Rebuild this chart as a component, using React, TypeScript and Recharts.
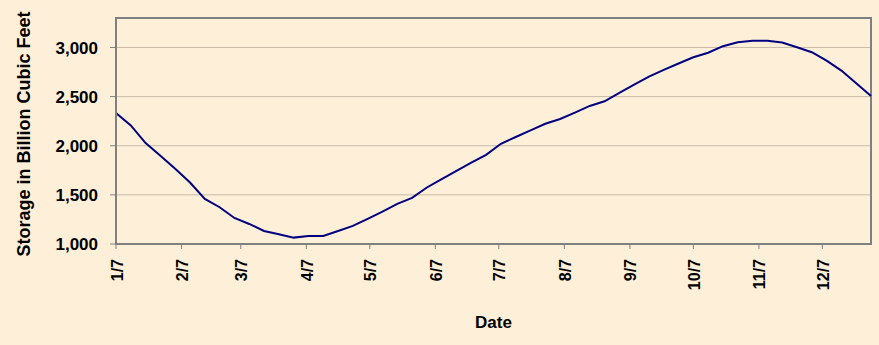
import React from "react";
import {
  LineChart,
  Line,
  XAxis,
  YAxis,
  CartesianGrid,
  ReferenceArea,
  Label,
} from "recharts";

// weekly storage readings, starting 1/7 (day 0), every 7 days
const weekDays = Array.from({ length: 52 }, (_, i) => i * 7);
const storage = [
  2334, 2207, 2027, 1898, 1765, 1626, 1459, 1374, 1265, 1204, 1133, 1099, 1065,
  1082, 1082, 1133, 1184, 1255, 1330, 1408, 1469, 1575, 1660, 1745, 1827, 1908,
  2020, 2089, 2157, 2224, 2272, 2337, 2405, 2452, 2537, 2622, 2704, 2772, 2837,
  2901, 2946, 3013, 3054, 3068, 3068, 3051, 3003, 2952, 2867, 2765, 2636, 2507,
];

// month ticks: days after 1/7
const monthTicks = [0, 31, 59, 90, 120, 151, 181, 212, 243, 273, 304, 334];
const monthLabels = ["1/7", "2/7", "3/7", "4/7", "5/7", "6/7", "7/7", "8/7", "9/7", "10/7", "11/7", "12/7"];
const yTicks = [1000, 1500, 2000, 2500, 3000];

const data = weekDays.map((d, i) => ({ day: d, storage: storage[i] }));

const BG = "#FEEFD8";
const FONT = "'Liberation Sans', Arial, sans-serif";

const DateTick = (props: any) => {
  const { x, y, payload } = props;
  const idx = monthTicks.indexOf(payload.value);
  return (
    <text
      transform={`translate(${x + 1},${y}) rotate(-90)`}
      textAnchor="end"
      dominantBaseline="central"
      fontFamily={FONT}
      fontWeight="bold"
      fontSize={16}
      fill="#000"
    >
      {monthLabels[idx]}
    </text>
  );
};

const YTitle = (props: any) => {
  const { viewBox } = props;
  const cx = 24;
  const cy = viewBox.y + viewBox.height / 2 + 3;
  return (
    <text
      transform={`translate(${cx},${cy}) rotate(-90)`}
      textAnchor="middle"
      dominantBaseline="central"
      fontFamily={FONT}
      fontWeight="bold"
      fontSize={18}
      fill="#000"
    >
      Storage in Billion Cubic Feet
    </text>
  );
};

export default function App() {
  return (
    <div style={{ position: "fixed", left: 0, top: 0, width: 879, height: 345, background: BG }}>
      <LineChart
        width={879}
        height={345}
        data={data}
        margin={{ top: 18, right: 8, bottom: 21, left: 0 }}
      >
        <CartesianGrid horizontal vertical={false} stroke="#C9BBA8" strokeWidth={1} />
        <XAxis
          dataKey="day"
          type="number"
          domain={[0, 357]}
          ticks={monthTicks}
          tick={<DateTick />}
          tickSize={5}
          tickMargin={10}
          height={80}
          axisLine={{ stroke: "#808080", strokeWidth: 2 }}
          tickLine={{ stroke: "#808080" }}
          interval={0}
        >
          <Label
            value="Date"
            position="insideBottom"
            offset={-4}
            style={{ fontFamily: FONT, fontWeight: "bold", fontSize: 17, fill: "#000" }}
          />
        </XAxis>
        <YAxis
          type="number"
          domain={[1000, 3300]}
          ticks={yTicks}
          width={116}
          tickSize={6}
          tickMargin={12}
          tickFormatter={(v: number) => v.toLocaleString("en-US")}
          tick={{ fontFamily: FONT, fontWeight: "bold", fontSize: 17, fill: "#000" }}
          axisLine={{ stroke: "#808080", strokeWidth: 2 }}
          tickLine={{ stroke: "#808080" }}
          allowDataOverflow
        >
          <Label content={<YTitle />} />
        </YAxis>
        <ReferenceArea
          x1={0}
          x2={357}
          y1={1000}
          y2={3300}
          fill="none"
          stroke="#808080"
          strokeWidth={2}
        />
        <Line
          type="linear"
          dataKey="storage"
          stroke="#000080"
          strokeWidth={2}
          dot={false}
          isAnimationActive={false}
        />
      </LineChart>
    </div>
  );
}
